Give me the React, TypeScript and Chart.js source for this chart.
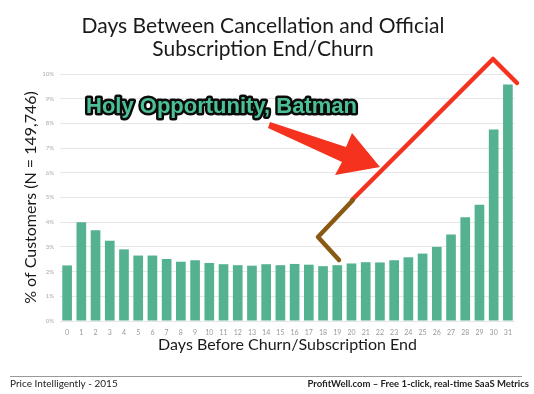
import React, { useEffect, useRef } from "react";
import { Chart, registerables } from "chart.js";

Chart.register(...registerables);

const days = Array.from({ length: 32 }, (_, i) => String(i));
const customerPct = [
  2.25, 4.0, 3.67, 3.25, 2.9, 2.65, 2.65, 2.51, 2.4, 2.46, 2.35, 2.3, 2.26, 2.24, 2.3, 2.26,
  2.31, 2.28, 2.22, 2.26, 2.33, 2.38, 2.37, 2.46, 2.58, 2.73, 3.0, 3.5, 4.2, 4.71, 7.75, 9.57,
];
const titleLines = ["Days Between Cancellation and Official", "Subscription End/Churn"];
const yTitle = "% of Customers (N = 149,746)";
const xTitle = "Days Before Churn/Subscription End";
const footerLeft = "Price Intelligently - 2015";
const footerRight = "ProfitWell.com \u2013 Free 1-click, real-time SaaS Metrics";
const callout = "Holy Opportunity, Batman";

const FONT = "Lato, 'Open Sans', sans-serif";

const decor = {
  id: "decor",
  afterDraw(chart: any) {
    const ctx = chart.ctx as CanvasRenderingContext2D;
    const area = chart.chartArea;
    ctx.save();
    // title
    ctx.fillStyle = "#1a1a1a";
    ctx.font = `21px ${FONT}`;
    ctx.textAlign = "center";
    ctx.textBaseline = "alphabetic";
    ctx.fillText(titleLines[0], 263, 33);
    ctx.fillText(titleLines[1], 263, 56);

    // axis titles
    ctx.font = `16px ${FONT}`;
    ctx.textBaseline = "middle";
    ctx.fillText(xTitle, (area.left + area.right) / 2, 345);
    ctx.save();
    ctx.translate(31, (area.top + area.bottom) / 2);
    ctx.rotate(-Math.PI / 2);
    ctx.fillText(yTitle, 0, 0);
    ctx.restore();

    // footer
    ctx.textBaseline = "alphabetic";
    ctx.strokeStyle = "#999";
    ctx.lineWidth = 1;
    ctx.beginPath();
    ctx.moveTo(10, 376.5);
    ctx.lineTo(522, 376.5);
    ctx.stroke();
    ctx.fillStyle = "#222";
    ctx.font = `10px ${FONT}`;
    ctx.textAlign = "left";
    ctx.fillText(footerLeft, 10, 387);
    ctx.font = `bold 9.5px ${FONT}`;
    ctx.textAlign = "right";
    ctx.fillText(footerRight, 529, 387);

    // red line with brown lower part
    ctx.lineCap = "round";
    ctx.lineJoin = "round";
    ctx.lineWidth = 4.5;
    ctx.strokeStyle = "#f5321e";
    ctx.beginPath();
    ctx.moveTo(352, 200);
    ctx.lineTo(493, 59);
    ctx.lineTo(517, 83);
    ctx.stroke();
    ctx.strokeStyle = "#8a5a14";
    ctx.beginPath();
    ctx.moveTo(339, 260);
    ctx.lineTo(318, 237);
    ctx.lineTo(353, 200);
    ctx.stroke();

    // arrow
    ctx.fillStyle = "#f5321e";
    ctx.beginPath();
    ctx.moveTo(270, 122);
    ctx.lineTo(346, 147);
    ctx.lineTo(352, 133);
    ctx.lineTo(380, 167);
    ctx.lineTo(335, 175);
    ctx.lineTo(342, 162);
    ctx.lineTo(268, 128);
    ctx.closePath();
    ctx.fill();

    // callout text
    ctx.font = `bold 22px 'Liberation Sans', Arial, sans-serif`;
    ctx.textAlign = "left";
    ctx.lineWidth = 5;
    ctx.strokeStyle = "#0b0b0b";
    ctx.strokeText(callout, 86, 113);
    ctx.fillStyle = "#4cc095";
    ctx.fillText(callout, 86, 113);
    ctx.restore();
  },
};

export default function App() {
  const ref = useRef<HTMLCanvasElement>(null);
  useEffect(() => {
    document.body.style.margin = "0";
    const chart = new Chart(ref.current!, {
      type: "bar",
      data: {
        labels: days,
        datasets: [
          {
            data: customerPct,
            backgroundColor: "#55b291",
            barPercentage: 0.85,
            categoryPercentage: 0.8,
          },
        ],
      },
      options: {
        animation: false,
        responsive: false,
        layout: { padding: { top: 74, left: 10, right: 19, bottom: 0 } },
        plugins: { legend: { display: false }, tooltip: { enabled: false }, title: { display: false } },
        scales: {
          x: {
            grid: { display: false },
            border: { display: false },
            ticks: { color: "#999", padding: 0, font: { size: 7, family: FONT }, maxRotation: 0, autoSkip: false },
            afterFit: (s: any) => {
              s.height = 73;
            },
          },
          y: {
            min: 0,
            max: 10,
            grid: { color: "#e6e6e6", drawTicks: false },
            border: { display: false },
            ticks: {
              stepSize: 1,
              color: "#aaa",
              padding: 6,
              font: { size: 6, family: FONT },
              callback: (v: any) => v + "%",
            },
            afterFit: (s: any) => {
              s.width = 50;
            },
          },
        },
      },
      plugins: [decor],
    });
    return () => chart.destroy();
  }, []);
  return <canvas ref={ref} width={534} height={394} style={{ display: "block" }} />;
}
